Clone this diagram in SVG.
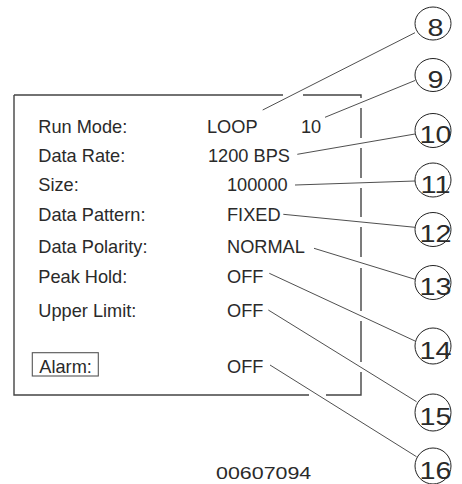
<svg xmlns="http://www.w3.org/2000/svg" width="462" height="484" viewBox="0 0 462 484">
<style>
.lbl{font-family:"Liberation Sans",Arial,sans-serif;font-size:18.2px;fill:#2a2a2a}
.num{font-family:"Liberation Sans",Arial,sans-serif;font-size:23px;fill:#2a2a2a;text-anchor:middle}
.c{fill:none;stroke:#222;stroke-width:1}
.ld{fill:none;stroke:#222;stroke-width:0.8}
.bx{fill:none;stroke:#444;stroke-width:1.4}
</style>
<rect width="462" height="484" fill="#fff"/>
<g id="panel">
<path class="bx" d="M14,95 H283 M303,95 H361 V98 M361,108 V138 M361,148 V178 M361,188 V217 M361,227 V257 M361,268 V311 M361,321 V362 M361,372 V395 H326 M309,395 H14 V95"/>
<rect x="32.3" y="352.7" width="66" height="23.3" fill="none" stroke="#555" stroke-width="1.1"/>
<text class="lbl" x="38.3" y="132.7">Run Mode:</text>
<text class="lbl" x="38.3" y="161.7">Data Rate:</text>
<text class="lbl" x="38.3" y="191">Size:</text>
<text class="lbl" x="38.3" y="220.7">Data Pattern:</text>
<text class="lbl" x="38.3" y="253">Data Polarity:</text>
<text class="lbl" x="38.3" y="283">Peak Hold:</text>
<text class="lbl" x="38.3" y="317">Upper Limit:</text>
<text class="lbl" x="39.3" y="373">Alarm:</text>
<text class="lbl" x="207" y="132.7">LOOP</text>
<text class="lbl" x="301" y="132.7">10</text>
<text class="lbl" x="208" y="161.7">1200 BPS</text>
<text class="lbl" x="227" y="191">100000</text>
<text class="lbl" x="227" y="220.7">FIXED</text>
<text class="lbl" x="227" y="253">NORMAL</text>
<text class="lbl" x="227" y="283">OFF</text>
<text class="lbl" x="227" y="317">OFF</text>
<text class="lbl" x="227" y="373">OFF</text>
</g>
<g id="connectors">
<line class="ld" x1="262.7" y1="110" x2="415" y2="32.7"/>
<line class="ld" x1="325" y1="117.3" x2="415" y2="80.5"/>
<line class="ld" x1="297.3" y1="154.3" x2="415" y2="134"/>
<line class="ld" x1="295" y1="185" x2="415" y2="181"/>
<line class="ld" x1="283.3" y1="214.3" x2="415" y2="227.3"/>
<line class="ld" x1="314" y1="248.3" x2="415" y2="279.3"/>
<line class="ld" x1="269.3" y1="273.3" x2="415" y2="341"/>
<line class="ld" x1="268.3" y1="310" x2="416.5" y2="401.7"/>
<line class="ld" x1="270" y1="365" x2="416.5" y2="456.7"/>
</g>
<g id="callout-8"><ellipse class="c" cx="433" cy="23.5" rx="18" ry="16.5"/><text class="num" transform="translate(435.5 36) scale(1.25 1)">8</text></g>
<g id="callout-9"><ellipse class="c" cx="433" cy="75" rx="18" ry="16.5"/><text class="num" transform="translate(435.5 87.5) scale(1.25 1)">9</text></g>
<g id="callout-10"><ellipse class="c" cx="433" cy="130.5" rx="18" ry="17"/><text class="num" transform="translate(435.5 143.3) scale(1.25 1)">10</text></g>
<g id="callout-11"><ellipse class="c" cx="433" cy="180" rx="18" ry="17"/><text class="num" transform="translate(435.5 192.5) scale(1.25 1)">11</text></g>
<g id="callout-12"><ellipse class="c" cx="433" cy="229.5" rx="18" ry="17"/><text class="num" transform="translate(435.5 242) scale(1.25 1)">12</text></g>
<g id="callout-13"><ellipse class="c" cx="433" cy="282.5" rx="18" ry="17"/><text class="num" transform="translate(435.5 295) scale(1.25 1)">13</text></g>
<g id="callout-14"><ellipse class="c" cx="433" cy="346" rx="18" ry="18"/><text class="num" transform="translate(435.5 359) scale(1.25 1)">14</text></g>
<g id="callout-15"><ellipse class="c" cx="433" cy="412.5" rx="18" ry="18.5"/><text class="num" transform="translate(435.5 425) scale(1.25 1)">15</text></g>
<g id="callout-16"><ellipse class="c" cx="433" cy="466" rx="18" ry="18"/><text class="num" transform="translate(435.5 479) scale(1.25 1)">16</text></g>
<g id="figure-number"><text class="lbl" transform="translate(216 479) scale(1.26 1)" style="font-size:17px">00607094</text></g>
</svg>
